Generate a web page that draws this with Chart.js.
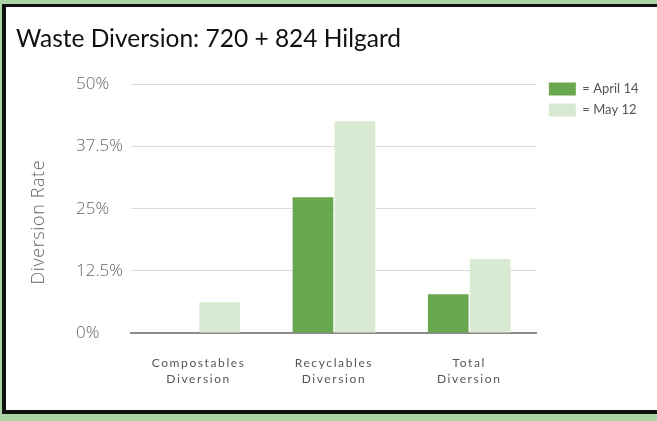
<!DOCTYPE html>
<html>
<head>
<meta charset="utf-8">
<script src="https://cdn.jsdelivr.net/npm/chart.js@4/dist/chart.umd.min.js"></script>
<style>
  html, body { margin: 0; padding: 0; }
  body { width: 657px; height: 421px; background: #abd5a4; position: relative; overflow: hidden; }
  #frame { position: absolute; left: 2px; top: 4px; width: 700px; height: 410px; box-sizing: border-box;
           background: #fff; border: 4px solid #111; border-top-width: 3px; }
  #wrap { position: absolute; left: 0; top: 0; width: 657px; height: 421px; }
</style>
</head>
<body>
<div id="frame"></div>
<div id="wrap"><canvas id="chart"></canvas></div>
<script>
const categories = [['Compostables', 'Diversion'], ['Recyclables', 'Diversion'], ['Total', 'Diversion']];
const seriesNames = ['April 14', 'May 12'];
const april14 = [0, 27.3, 7.8];
const may12 = [6.2, 42.6, 14.9];
const yTicks = [0, 12.5, 25, 37.5, 50];

// wider letter spacing on some texts, like the original
function spaced(scale, method, amount) {
  const draw = scale[method];
  scale[method] = function (area) {
    this.ctx.letterSpacing = amount;
    draw.call(this, area);
    this.ctx.letterSpacing = '0px';
  };
}

// category labels are set wide, and legend / axis title need a small shift
const tweaks = {
  id: 'tweaks',
  afterLayout(chart) {
    if (!chart._spaced) {
      spaced(chart.scales.x, 'drawLabels', '1.6px');
      spaced(chart.scales.yt, 'drawTitle', '0.6px');
      chart._spaced = true;
    }
    chart.legend.left += 4;
    chart.legend.top -= 10;
    chart.scales.yt.top += 27;
  }
};

const font = 'Lato';
const axisFont = 'Open Sans';

new Chart(document.getElementById('chart'), {
  type: 'bar',
  data: {
    labels: categories,
    datasets: [
      { label: seriesNames[0], data: april14, backgroundColor: '#6aa84f' },
      { label: seriesNames[1], data: may12, backgroundColor: '#d9ead3' }
    ]
  },
  options: {
    responsive: true,
    maintainAspectRatio: false,
    animation: false,
    categoryPercentage: 0.62,
    barPercentage: 0.97,
    layout: { padding: { left: 16, top: 7, right: 16, bottom: 18 } },
    plugins: {
      tooltip: { enabled: false },
      title: {
        display: true,
        text: 'Waste Diversion: 720 + 824 Hilgard',
        align: 'start',
        color: '#111',
        font: { family: font, size: 24.5, weight: 'normal' },
        padding: { top: 17, bottom: 31 }
      },
      legend: {
        position: 'right',
        align: 'start',
        fullSize: false,
        labels: {
          boxWidth: 27,
          boxHeight: 13,
          padding: 8,
          color: '#555',
          font: { family: font, size: 13 },
          generateLabels(chart) {
            return Chart.defaults.plugins.legend.labels.generateLabels(chart)
              .map(l => ({ ...l, text: '= ' + l.text }));
          }
        }
      }
    },
    scales: {
      x: {
        grid: { display: false },
        border: { color: '#8c8c8c', width: 2 },
        ticks: { color: '#555', padding: 14, maxRotation: 0, autoSkip: false,
                 font: { family: font, size: 12, lineHeight: 1.35 } },
        afterFit(s) { s.height = 70; }
      },
      y: {
        min: 0,
        max: 50,
        grid: { color: '#dcdcdc', drawTicks: false },
        border: { display: false },
        ticks: {
          crossAlign: 'far',
          padding: 8,
          color: '#666',
          font: { family: axisFont, size: 17, weight: 300 },
          callback: v => v + '%'
        },
        afterBuildTicks(s) { s.ticks = yTicks.map(v => ({ value: v })); },
        afterFit(s) { s.width = 55; }
      },
      yt: {
        type: 'linear',
        position: 'left',
        weight: 1,
        grid: { display: false, drawTicks: false },
        border: { display: false },
        ticks: { display: false },
        title: {
          display: true,
          text: 'Diversion Rate',
          color: '#666',
          font: { family: axisFont, size: 18, weight: 300 },
          padding: { top: 12, bottom: 0 }
        },
        afterFit(s) { s.width = 60; }
      }
    }
  },
  plugins: [tweaks]
});
</script>
</body>
</html>
